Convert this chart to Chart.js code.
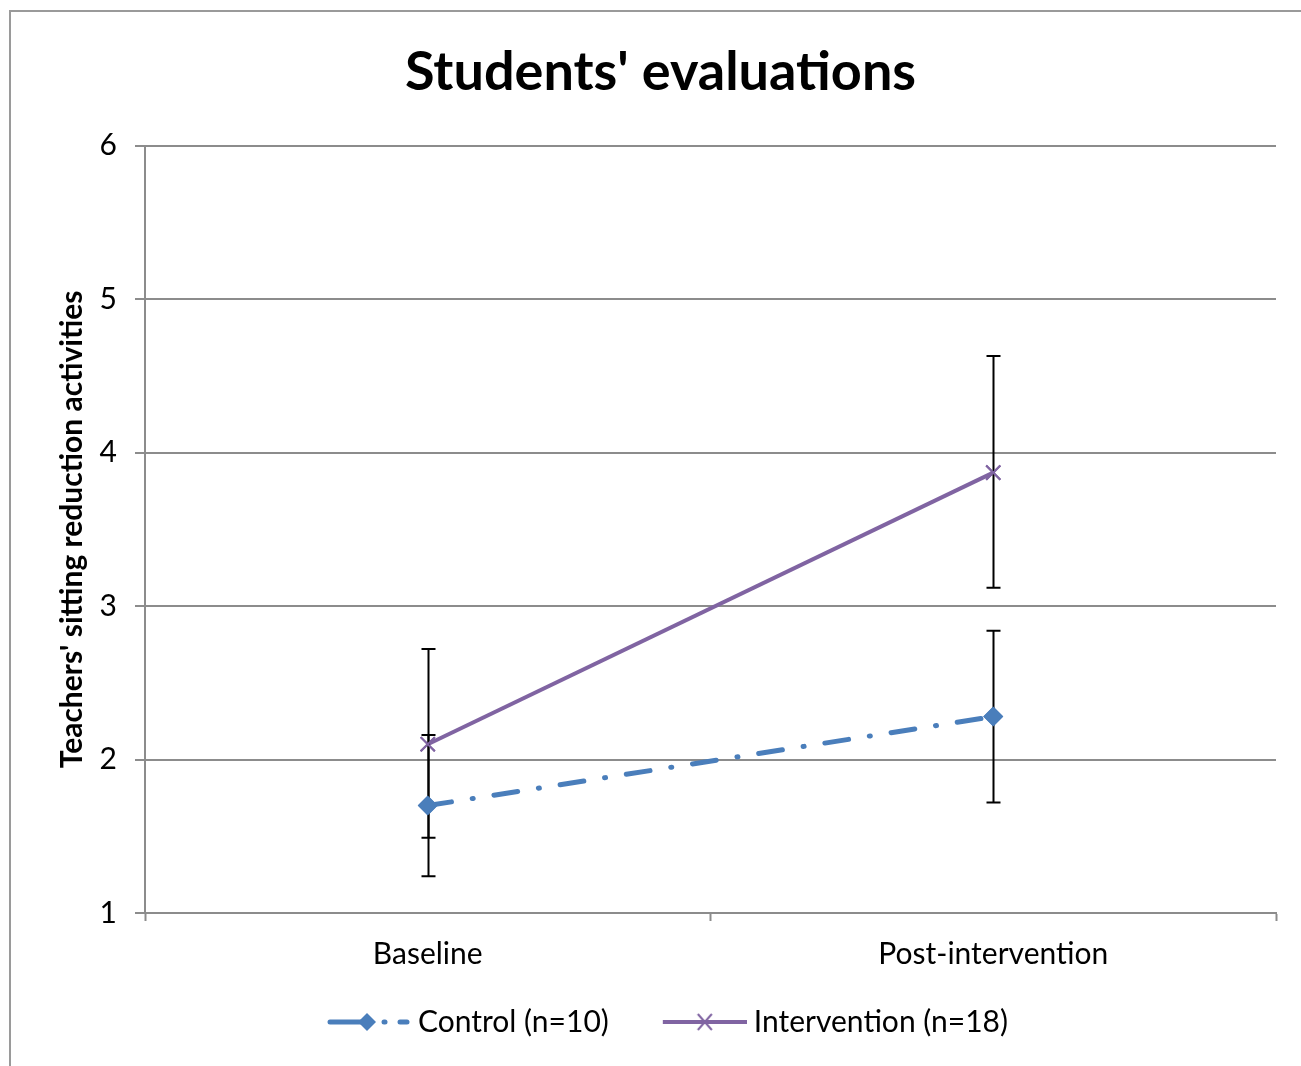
<!DOCTYPE html>
<html>
<head>
<meta charset="utf-8">
<title>Students' evaluations</title>
<script src="https://cdn.jsdelivr.net/npm/chart.js@4.4.1/dist/chart.umd.min.js"></script>
<style>
  html, body { margin: 0; padding: 0; background: #fff; }
  #frame {
    position: absolute; left: 9px; top: 10px; width: 1400px; height: 1200px;
    border-left: 2px solid #9a9a9a; border-top: 2px solid #9a9a9a;
  }
  #wrap { position: absolute; left: 0; top: 0; width: 1301px; height: 1066px; }
</style>
</head>
<body>
<div id="frame"></div>
<div id="wrap"><canvas id="chart"></canvas></div>
<script>
// --- data --------------------------------------------------------
const categories = ['Baseline', 'Post-intervention'];
const controlMean = [1.70, 2.28];
const controlLow = [1.24, 1.72];
const controlHigh = [2.16, 2.84];
const interventionMean = [2.10, 3.87];
const interventionLow = [1.49, 3.12];
const interventionHigh = [2.72, 4.63];
const yTicks = [1, 2, 3, 4, 5, 6];

const BLUE = '#4a7ebb';
const PURPLE = '#8064a2';
const GRID = '#8c8c8c';
const FONT = 'Lato';

// legend swatch: short line with the series marker in the middle.
// box is 90px, image is 106px; the line sits in the right 84px so it runs up close to the text
function legendSwatch(kind) {
  const c = document.createElement('canvas');
  c.width = 106; c.height = 24;
  const g = c.getContext('2d');
  const s = 22;
  g.lineWidth = 5;
  g.lineCap = 'round';
  if (kind === 'control') {
    g.strokeStyle = BLUE;
    g.beginPath(); g.moveTo(s + 3, 12); g.lineTo(s + 40, 12); g.stroke();
    g.beginPath(); g.moveTo(s + 57, 12); g.lineTo(s + 58, 12); g.stroke();
    g.beginPath(); g.moveTo(s + 73, 12); g.lineTo(s + 80, 12); g.stroke();
    g.fillStyle = BLUE;
    g.beginPath(); g.moveTo(s + 40, 3); g.lineTo(s + 49, 12); g.lineTo(s + 40, 21); g.lineTo(s + 31, 12); g.closePath(); g.fill();
  } else {
    g.strokeStyle = PURPLE;
    g.lineWidth = 4;
    g.lineCap = 'butt';
    g.beginPath(); g.moveTo(s, 12); g.lineTo(s + 84, 12); g.stroke();
    g.lineWidth = 2;
    g.beginPath();
    g.moveTo(s + 35, 4); g.lineTo(s + 49, 20);
    g.moveTo(s + 49, 4); g.lineTo(s + 35, 20);
    g.stroke();
  }
  return c;
}

// error bars drawn from the y scale, then markers again on top
const errorBars = {
  id: 'errorBars',
  afterDatasetsDraw(chart) {
    const { ctx, scales: { x, y } } = chart;
    const sets = [[controlLow, controlHigh], [interventionLow, interventionHigh]];
    ctx.save();
    ctx.strokeStyle = '#000';
    ctx.lineWidth = 2;
    sets.forEach(([lo, hi]) => {
      categories.forEach((cat, i) => {
        const px = Math.round(x.getPixelForValue(i)) + 0.5;
        const y1 = y.getPixelForValue(lo[i]);
        const y2 = y.getPixelForValue(hi[i]);
        ctx.beginPath();
        ctx.moveTo(px, y1); ctx.lineTo(px, y2);
        ctx.moveTo(px - 7, y1); ctx.lineTo(px + 7, y1);
        ctx.moveTo(px - 7, y2); ctx.lineTo(px + 7, y2);
        ctx.stroke();
      });
    });
    ctx.restore();
    chart.getSortedVisibleDatasetMetas().forEach(meta => {
      meta.data.forEach(pt => pt.draw(ctx, chart.chartArea));
    });
  }
};

new Chart(document.getElementById('chart'), {
  type: 'line',
  data: {
    labels: categories,
    datasets: [
      {
        label: 'Control (n=10)',
        data: controlMean,
        borderColor: BLUE,
        backgroundColor: BLUE,
        borderWidth: 5,
        borderDash: [24, 21, 1, 21],
        borderCapStyle: 'round',
        pointStyle: 'rectRot',
        pointRadius: 10,
        pointBorderWidth: 0,
        pointBackgroundColor: BLUE,
        tension: 0,
      },
      {
        label: 'Intervention (n=18)',
        data: interventionMean,
        borderColor: PURPLE,
        backgroundColor: PURPLE,
        borderWidth: 4,
        pointStyle: 'crossRot',
        pointRadius: 10,
        pointBorderWidth: 2,
        pointBorderColor: PURPLE,
        tension: 0,
      }
    ]
  },
  plugins: [errorBars],
  options: {
    responsive: true,
    maintainAspectRatio: false,
    animation: false,
    layout: { padding: { left: 45, right: 25, top: 0, bottom: 19 } },
    plugins: {
      tooltip: { enabled: false },
      title: {
        display: true,
        text: "Students' evaluations",
        color: '#000',
        font: { family: FONT, size: 54, weight: 'bold', lineHeight: 1.2 },
        padding: { top: 40, bottom: 41 },
      },
      legend: {
        position: 'bottom',
        labels: {
          color: '#000',
          font: { family: FONT, size: 30 },
          padding: 40,
          usePointStyle: true,
          pointStyleWidth: 90,
          generateLabels: chart => chart.data.datasets.map((ds, i) => ({
            text: ds.label,
            pointStyle: legendSwatch(i === 0 ? 'control' : 'intervention'),
            fillStyle: ds.borderColor,
            strokeStyle: ds.borderColor,
            lineWidth: 0,
            hidden: false,
            datasetIndex: i,
          })),
        }
      }
    },
    scales: {
      x: {
        offset: true,
        afterFit: s => { s.height = 54; },
        grid: {
          offset: true,
          drawOnChartArea: false,
          drawTicks: true,
          tickLength: 8,
          tickWidth: 2,
          tickColor: GRID,
        },
        border: { color: GRID, width: 2 },
        ticks: { color: '#000', font: { family: FONT, size: 30 }, padding: 15 },
      },
      y: {
        min: 1,
        max: 6,
        afterFit: s => { s.width = 100; },
        afterBuildTicks: s => { s.ticks = yTicks.map(v => ({ value: v })); },
        grid: { color: GRID, lineWidth: 2, tickLength: 10 },
        border: { color: GRID, width: 2 },
        ticks: { color: '#000', font: { family: FONT, size: 30 }, padding: 18 },
        title: {
          display: true,
          text: "Teachers' sitting reduction activities",
          color: '#000',
          font: { family: FONT, size: 30, weight: 'bold', lineHeight: 1.2 },
          padding: { top: 9, bottom: 0 },
        }
      }
    }
  }
});
</script>
</body>
</html>
